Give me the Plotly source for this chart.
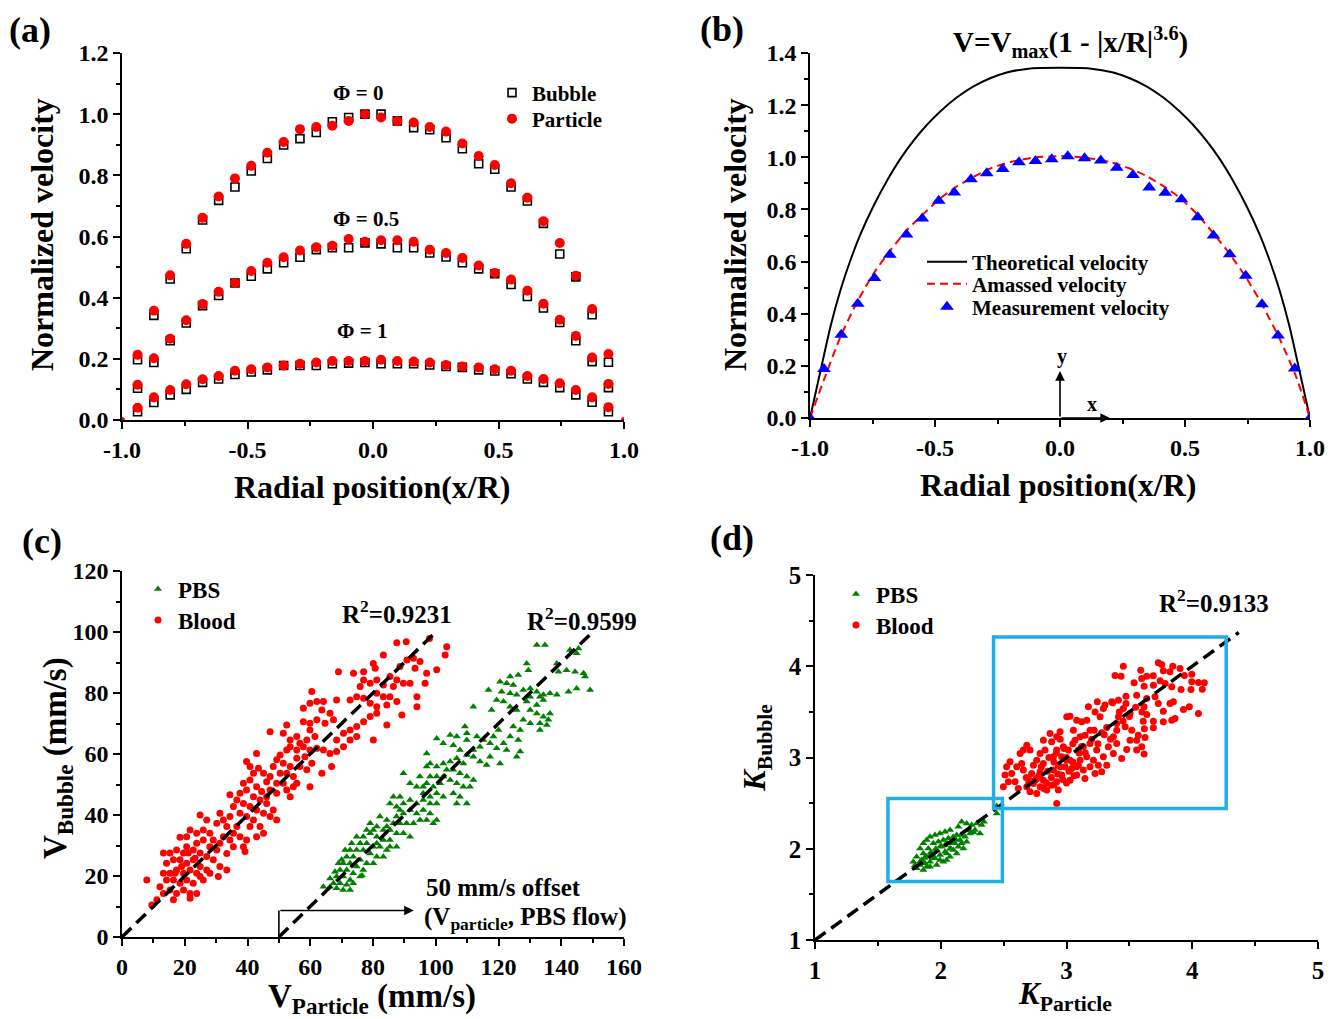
import plotly.graph_objects as go

# ---------------- Panel (a) data ----------------
a_x = [-0.938, -0.873, -0.808, -0.744, -0.679, -0.615, -0.550, -0.485, -0.421, -0.356,
       -0.291, -0.226, -0.162, -0.097, -0.032, 0.032, 0.097, 0.162, 0.226, 0.291,
       0.356, 0.421, 0.485, 0.550, 0.615, 0.679, 0.744, 0.808, 0.873, 0.938]
part_phi0 = [0.213, 0.357, 0.473, 0.576, 0.661, 0.731, 0.790, 0.831, 0.874, 0.909,
             0.951, 0.958, 0.962, 0.978, 1.000, 0.989, 0.978, 0.973, 0.958, 0.943,
             0.904, 0.863, 0.834, 0.774, 0.727, 0.650, 0.579, 0.472, 0.363, 0.216]
bub_phi0 = [0.197, 0.342, 0.461, 0.560, 0.654, 0.718, 0.762, 0.814, 0.855, 0.899,
            0.920, 0.940, 0.975, 0.989, 1.000, 1.000, 0.978, 0.956, 0.949, 0.923,
            0.887, 0.838, 0.820, 0.762, 0.716, 0.643, 0.543, 0.468, 0.344, 0.189]
part_phi05 = [0.115, 0.202, 0.266, 0.326, 0.379, 0.419, 0.448, 0.487, 0.514, 0.532,
              0.554, 0.565, 0.570, 0.592, 0.583, 0.588, 0.588, 0.583, 0.557, 0.546,
              0.530, 0.505, 0.481, 0.459, 0.423, 0.380, 0.328, 0.275, 0.204, 0.118]
bub_phi05 = [0.104, 0.188, 0.259, 0.317, 0.374, 0.407, 0.448, 0.470, 0.494, 0.514,
             0.532, 0.557, 0.563, 0.563, 0.579, 0.576, 0.563, 0.563, 0.546, 0.533,
             0.514, 0.494, 0.478, 0.443, 0.404, 0.366, 0.319, 0.259, 0.191, 0.106]
part_phi1 = [0.040, 0.074, 0.098, 0.117, 0.133, 0.144, 0.161, 0.166, 0.172, 0.178,
             0.184, 0.188, 0.193, 0.193, 0.193, 0.197, 0.193, 0.191, 0.188, 0.180,
             0.175, 0.172, 0.166, 0.161, 0.144, 0.134, 0.120, 0.098, 0.074, 0.042]
bub_phi1 = [0.027, 0.057, 0.082, 0.100, 0.123, 0.134, 0.149, 0.157, 0.164, 0.178,
            0.178, 0.178, 0.184, 0.186, 0.188, 0.184, 0.184, 0.184, 0.180, 0.175,
            0.172, 0.164, 0.160, 0.151, 0.134, 0.123, 0.106, 0.082, 0.058, 0.027]
wall_x = [-1.0, 1.0]
wall_v = [0.0, 0.0]

radial_ticks = [-1.0, -0.5, 0.0, 0.5, 1.0]
radial_labels = ["-1.0", "-0.5", "0.0", "0.5", "1.0"]

# ---------------- Panel (b) data ----------------
theory_x = [-1.0, -0.957, -0.918, -0.878, -0.838, -0.798, -0.745, -0.691, -0.638,
            -0.585, -0.532, -0.479, -0.412, -0.346, -0.279, -0.213, -0.133, 0.0, 0.133,
            0.213, 0.279, 0.346, 0.412, 0.479, 0.532, 0.585, 0.638, 0.691, 0.745,
            0.798, 0.838, 0.878, 0.918, 0.957, 1.0]
theory_v = [0.0, 0.185, 0.351, 0.491, 0.606, 0.705, 0.815, 0.912, 0.995,
            1.065, 1.125, 1.176, 1.230, 1.272, 1.303, 1.325, 1.339, 1.343, 1.339,
            1.325, 1.303, 1.272, 1.230, 1.176, 1.125, 1.065, 0.995, 0.912, 0.815,
            0.705, 0.606, 0.491, 0.351, 0.185, 0.0]
amassed_x = [-1.0, -0.944, -0.878, -0.811, -0.745, -0.678, -0.612, -0.545, -0.479, -0.412,
             -0.346, -0.279, -0.199, -0.106, 0.0, 0.106, 0.199, 0.279, 0.346, 0.412,
             0.479, 0.545, 0.612, 0.678, 0.745, 0.811, 0.878, 0.944, 1.0]
amassed_v = [0.0, 0.147, 0.312, 0.446, 0.555, 0.644, 0.721, 0.784, 0.842, 0.889,
             0.925, 0.957, 0.982, 0.999, 1.004, 0.998, 0.982, 0.957, 0.928, 0.890,
             0.845, 0.785, 0.710, 0.630, 0.538, 0.430, 0.305, 0.160, 0.0]
meas_x = [-1.0, -0.944, -0.875, -0.809, -0.742, -0.681, -0.614, -0.551, -0.485, -0.423,
          -0.356, -0.293, -0.229, -0.164, -0.098, -0.033, 0.031, 0.098, 0.163, 0.227,
          0.292, 0.357, 0.421, 0.486, 0.551, 0.614, 0.679, 0.743, 0.808, 0.872, 0.939, 1.0]
meas_v = [0.0, 0.188, 0.319, 0.438, 0.537, 0.626, 0.704, 0.765, 0.833, 0.865,
          0.916, 0.939, 0.955, 0.981, 0.986, 0.992, 1.004, 0.996, 0.988, 0.960,
          0.932, 0.884, 0.864, 0.839, 0.770, 0.700, 0.628, 0.546, 0.436, 0.316, 0.190, 0.0]

# ---------------- Panel (c) data ----------------
blood_vp = [87.6, 103.0, 103.5, 100.3, 96.6, 97.1, 94.0, 94.0, 89.2, 84.4, 80.1, 83.3, 80.1, 80.7, 77.0,
            73.8, 69.0, 88.6, 90.8, 92.9, 95.0, 93.4, 85.4, 87.6, 89.7, 91.8, 86.5, 83.3, 81.2, 79.1,
            77.0, 75.9, 81.2, 83.3, 85.4, 87.6, 84.4, 81.2, 79.1, 77.0, 74.8, 72.7, 81.2, 79.1, 77.0,
            74.8, 72.7, 74.8, 72.7, 70.6, 68.4, 70.6, 68.4, 66.3, 64.2, 62.1, 68.4, 60.5, 57.8, 59.9,
            62.1, 64.2, 63.7, 66.3, 67.4, 64.7, 62.1, 59.9, 57.8, 59.9, 61.5, 58.9, 55.7, 53.6, 52.5,
            47.2, 51.4, 56.7, 57.8, 59.9, 55.7, 53.6, 58.3, 60.5, 58.9, 55.7, 56.7, 63.7, 66.8, 59.9,
            52.5, 50.4, 49.3, 51.4, 53.6, 48.2, 50.4, 52.5, 54.6, 51.4, 49.3, 52.5, 54.6, 53.6, 55.7,
            47.2, 45.1, 46.1, 47.2, 49.3, 42.9, 39.7, 40.8, 43.5, 41.9, 38.7, 40.8, 42.9, 44.5, 46.1,
            39.7, 41.9, 44.0, 46.1, 48.2, 47.2, 49.3, 45.1, 42.9, 40.8, 37.6, 36.6, 34.4, 38.7, 35.5,
            37.6, 39.7, 41.9, 44.0, 45.1, 42.9, 39.7, 38.7, 39.2, 40.8, 31.2, 32.3, 34.4, 30.2, 33.4,
            36.6, 35.5, 37.6, 34.4, 32.3, 31.2, 29.1, 28.0, 24.9, 27.0, 25.9, 23.8, 30.2, 33.4, 35.5,
            28.0, 25.9, 23.8, 21.7, 20.6, 27.0, 29.1, 31.2, 33.4, 30.7, 24.9, 22.7, 20.6, 18.5, 19.6,
            17.4, 15.3, 13.2, 16.4, 14.2, 18.5, 20.6, 22.7, 24.9, 27.0, 21.7, 19.6, 17.4, 15.3, 13.2,
            16.4, 18.5, 20.6, 22.7, 24.9, 19.6, 21.7, 17.4, 15.3, 23.8, 21.7, 16.4, 13.2, 12.1, 7.9,
            11.1, 9.5, 28.0, 25.9, 14.2, 23.8, 21.1, 23.3, 19.0, 16.9, 90.6, 98.0]
blood_vb = [96.5, 92.5, 95.2, 87.6, 83.2, 86.5, 75.5, 78.8, 72.8, 69.5, 64.6, 92.5, 89.7, 88.1, 87.0,
            86.5, 87.0, 88.7, 90.8, 91.4, 90.3, 88.1, 85.4, 84.3, 83.2, 83.2, 82.1, 82.6, 84.3, 83.2,
            84.3, 82.1, 79.9, 78.8, 78.8, 77.2, 76.1, 75.5, 76.6, 78.3, 78.8, 77.7, 73.4, 72.3, 70.6,
            69.0, 67.9, 65.7, 64.6, 66.8, 64.6, 62.4, 60.8, 60.2, 61.3, 61.9, 77.7, 80.5, 75.0, 76.6,
            77.2, 77.2, 74.4, 73.4, 71.2, 70.1, 71.2, 70.1, 70.6, 67.9, 65.7, 64.6, 65.7, 64.6, 69.5,
            67.3, 66.8, 63.5, 62.4, 61.3, 61.3, 62.4, 59.1, 57.0, 54.8, 58.6, 55.9, 53.7, 55.9, 49.3,
            61.3, 59.7, 58.1, 57.0, 55.9, 55.9, 53.7, 53.7, 52.6, 50.4, 50.4, 48.2, 49.3, 46.0, 50.4,
            52.6, 53.7, 50.9, 48.2, 47.1, 60.2, 57.5, 55.9, 55.3, 53.7, 50.4, 51.5, 49.3, 47.7, 46.0,
            48.2, 46.0, 44.9, 43.8, 41.6, 39.5, 38.4, 40.6, 41.6, 42.8, 47.1, 44.9, 46.6, 43.8, 42.8,
            40.6, 39.5, 38.4, 36.2, 34.0, 32.9, 31.8, 29.6, 28.0, 36.2, 40.6, 38.4, 39.5, 37.3, 36.2,
            36.2, 34.0, 32.9, 31.8, 32.9, 30.7, 31.8, 34.0, 40.0, 38.4, 35.1, 34.0, 28.5, 27.4, 29.6,
            29.6, 31.8, 30.7, 35.1, 32.9, 26.4, 25.3, 23.1, 22.0, 19.8, 27.5, 28.5, 29.6, 32.7, 27.5,
            28.5, 27.5, 27.5, 25.3, 24.2, 25.3, 24.2, 25.3, 23.1, 22.0, 22.0, 20.9, 22.0, 20.9, 20.9,
            18.7, 17.6, 18.7, 17.6, 19.8, 15.4, 14.3, 14.3, 15.4, 14.3, 12.7, 12.2, 14.3, 16.5, 18.7,
            12.2, 10.5, 20.9, 18.7, 18.7, 20.9, 27.5, 25.8, 23.1, 20.9, 96.8, 97.9]

pbs_vp = [132.2, 134.8, 145.5, 142.8, 144.9, 129.0, 129.5, 138.6, 139.1, 141.7, 144.4, 147.6, 147.1, 149.2, 144.9,
          142.3, 123.7, 126.3, 120.5, 122.6, 124.7, 116.8, 121.0, 123.7, 125.8, 127.9, 130.1, 132.2, 134.3, 136.4,
          138.6, 134.3, 133.2, 130.1, 129.0, 132.2, 121.6, 119.4, 117.8, 123.7, 125.8, 130.1, 132.2, 134.3, 135.9,
          133.2, 136.4, 135.4, 133.2, 130.1, 127.9, 126.9, 124.7, 123.7, 126.3, 121.6, 120.0, 118.4, 117.3, 119.4,
          122.6, 120.5, 116.2, 117.3, 126.9, 125.8, 112.0, 109.3, 109.9, 113.1, 115.2, 114.1, 112.0, 109.9, 106.7,
          104.6, 100.3, 102.4, 105.6, 107.7, 109.9, 112.0, 114.1, 108.8, 106.7, 104.6, 102.4, 100.3, 98.2, 97.1,
          103.5, 105.6, 107.7, 109.9, 112.0, 110.9, 108.8, 106.7, 104.6, 102.4, 100.3, 101.4, 99.2, 97.1, 94.9,
          91.8, 89.7, 93.9, 96.0, 98.2, 105.6, 107.7, 106.7, 109.9, 100.3, 102.4, 100.3, 98.2, 96.0, 93.9,
          91.8, 89.7, 87.5, 88.6, 86.5, 85.4, 96.0, 93.9, 91.8, 89.7, 87.5, 98.2, 100.3, 97.1, 95.0,
          92.9, 90.7, 88.6, 86.5, 84.4, 82.2, 79.1, 81.2, 83.3, 85.4, 87.5, 89.7, 91.8, 85.4, 83.3,
          81.2, 79.1, 76.9, 75.9, 78.0, 80.1, 82.2, 84.4, 87.5, 74.8, 76.9, 79.1, 81.2, 83.3, 72.7,
          71.6, 73.7, 75.9, 78.0, 80.1, 70.5, 72.7, 74.8, 76.9, 69.5, 71.6, 73.7, 75.9, 68.4, 70.5,
          72.7, 67.4, 69.5, 71.6, 73.7, 66.3, 68.4, 70.5, 64.2, 72.7, 66.3, 69.0, 70.0, 67.9, 71.1,
          73.2, 74.8, 78.0, 80.1, 85.4, 81.2, 84.4, 88.6, 99.2, 97.1, 96.0, 98.2, 76.5]
pbs_vb = [95.7, 95.7, 94.6, 94.1, 93.0, 89.7, 87.5, 89.7, 87.0, 87.5, 87.0, 85.4, 86.5, 81.0, 81.5,
          80.4, 85.4, 85.9, 83.7, 83.2, 82.6, 81.0, 80.4, 79.9, 79.4, 81.0, 81.5, 80.4, 79.4, 79.9,
          79.4, 77.7, 78.8, 78.8, 77.2, 76.1, 77.2, 77.7, 74.4, 75.5, 74.4, 74.4, 73.3, 72.2, 71.2,
          70.1, 73.3, 69.5, 67.9, 70.1, 71.2, 67.9, 69.0, 65.7, 64.6, 63.5, 67.9, 65.7, 63.5, 61.9,
          61.3, 56.9, 56.4, 59.1, 60.8, 59.1, 75.5, 69.0, 66.8, 65.7, 64.6, 62.4, 61.3, 64.6, 65.7,
          66.2, 65.1, 63.5, 62.9, 61.3, 59.7, 59.1, 57.5, 56.9, 58.6, 57.5, 56.9, 55.9, 56.9, 60.2,
          54.8, 54.8, 53.7, 52.6, 51.5, 49.3, 49.3, 50.4, 51.5, 52.6, 52.6, 50.4, 49.3, 50.4, 52.6,
          50.4, 53.7, 49.3, 47.1, 46.0, 47.1, 46.0, 43.8, 43.8, 47.1, 46.0, 43.8, 43.8, 44.9, 43.8,
          44.9, 43.8, 42.7, 46.0, 46.0, 43.8, 41.6, 40.5, 41.6, 40.5, 39.5, 40.5, 38.4, 38.4, 38.4,
          37.3, 37.3, 37.3, 37.3, 38.4, 39.5, 37.3, 36.2, 35.1, 35.1, 34.0, 34.0, 32.9, 31.8, 31.8,
          32.9, 34.0, 32.9, 30.7, 30.7, 29.6, 29.6, 28.5, 29.6, 28.5, 28.5, 27.4, 26.3, 26.3, 28.5,
          26.3, 26.3, 25.3, 24.2, 24.2, 24.2, 24.2, 23.1, 22.0, 22.0, 22.0, 20.9, 19.8, 19.8, 19.8,
          18.7, 17.6, 17.6, 17.1, 17.6, 16.5, 16.0, 15.4, 16.5, 15.4, 19.2, 24.2, 25.3, 21.4, 28.5,
          30.7, 32.9, 35.1, 35.1, 29.6, 30.7, 36.2, 41.6, 37.3, 55.9, 49.3, 52.6, 20.2]
fit_blood_x = [0, 100]
fit_blood_y = [0, 100]
fit_pbs_x = [50, 150]
fit_pbs_y = [0, 100]

# ---------------- Panel (d) data ----------------
blood_kp = [3.452, 3.386, 3.434, 3.590, 3.638, 3.690, 3.730, 3.757, 3.845, 3.903, 3.937, 3.996, 3.770, 3.823,
            3.537, 3.598, 3.617, 3.691, 3.744, 3.784, 3.837, 3.911, 3.996, 4.049, 4.096, 4.080, 3.990, 3.473,
            3.413, 3.367, 3.306, 3.245, 3.558, 3.638, 3.704, 3.730, 3.823, 3.850, 3.930, 3.977, 4.049, 3.770,
            3.837, 3.863, 3.770, 3.617, 3.638, 3.691, 3.610, 3.691, 3.619, 3.473, 3.505, 3.452, 3.413, 3.571,
            3.624, 3.558, 3.598, 3.617, 3.558, 3.505, 3.479, 3.439, 3.373, 3.320, 3.280, 3.373, 3.399, 3.333,
            3.293, 3.320, 3.280, 3.240, 3.214, 3.161, 3.121, 3.081, 3.028, 3.002, 3.187, 3.147, 3.108, 3.055,
            3.068, 3.187, 3.134, 3.094, 3.161, 3.108, 3.187, 3.134, 3.081, 3.147, 3.028, 2.949, 2.922, 2.869,
            2.882, 2.816, 2.975, 3.015, 2.962, 2.922, 2.896, 3.028, 2.988, 2.935, 2.896, 2.962, 2.922, 2.882,
            2.935, 2.843, 2.922, 2.829, 2.790, 2.763, 2.816, 2.737, 2.790, 2.723, 2.763, 2.697, 2.816, 2.737,
            2.684, 2.790, 2.710, 2.763, 2.657, 2.644, 2.604, 2.564, 2.511, 2.684, 2.710, 2.657, 2.631, 2.498,
            2.538, 2.591, 2.617, 2.524, 2.551, 3.399, 3.267, 3.227, 3.293, 3.174, 3.360, 3.466, 3.519, 3.002,
            3.041, 3.094, 3.253, 3.227, 2.850, 2.900, 2.950, 3.000, 2.800, 2.880, 2.930, 2.970, 3.050, 3.100,
            2.780, 2.840, 3.020, 3.080, 2.920, 2.860, 3.120, 3.150, 2.980, 3.050, 2.750, 2.700, 2.680, 2.820,
            2.900, 3.000, 3.060, 2.950, 3.200, 3.250, 3.300, 3.220, 3.350, 3.400, 3.450, 3.500, 3.420, 3.550,
            3.600]
blood_kb = [4.000, 3.900, 3.890, 3.957, 3.891, 3.895, 4.037, 4.020, 4.000, 3.975, 3.900, 3.913, 3.950, 3.939,
            3.818, 3.866, 3.782, 3.793, 3.840, 3.811, 3.774, 3.745, 3.829, 3.822, 3.818, 3.749, 3.745, 3.672,
            3.628, 3.599, 3.574, 3.610, 3.683, 3.647, 3.665, 3.592, 3.592, 3.610, 3.526, 3.555, 3.482, 3.508,
            3.409, 3.428, 3.391, 3.555, 3.471, 3.398, 3.398, 3.325, 3.314, 3.592, 3.482, 3.537, 3.446, 3.245,
            3.220, 3.190, 3.117, 3.037, 3.081, 3.190, 3.088, 2.990, 3.044, 3.329, 3.270, 3.227, 3.154, 3.117,
            3.008, 2.916, 2.843, 3.081, 2.971, 3.409, 3.391, 3.409, 3.453, 3.446, 3.300, 3.245, 3.227, 3.300,
            3.190, 3.154, 3.117, 3.081, 3.008, 2.971, 2.898, 2.862, 2.807, 2.770, 2.752, 3.281, 3.227, 3.263,
            3.172, 3.190, 3.117, 3.081, 3.008, 3.081, 3.008, 2.971, 2.898, 2.916, 2.862, 2.807, 2.734, 2.697,
            2.643, 2.643, 2.497, 3.081, 3.044, 2.971, 2.935, 2.916, 2.843, 2.825, 2.770, 2.770, 2.752, 2.716,
            2.679, 2.679, 2.624, 2.606, 2.862, 2.935, 2.898, 2.825, 2.807, 3.135, 3.081, 3.081, 3.044, 2.679,
            2.734, 2.734, 2.661, 2.898, 2.953, 3.373, 3.446, 3.500, 3.537, 3.555, 3.610, 3.336, 3.300, 2.971,
            2.880, 2.916, 2.916, 2.825, 2.850, 2.950, 2.900, 3.000, 2.900, 2.780, 2.820, 2.760, 2.950, 3.050,
            2.800, 2.720, 2.850, 2.900, 3.050, 3.000, 3.120, 3.050, 3.100, 3.150, 2.750, 2.720, 2.780, 2.660,
            2.700, 2.720, 2.800, 3.200, 3.200, 3.150, 3.250, 3.300, 3.200, 3.300, 3.400, 3.450, 3.500, 3.550,
            3.500]

pbs_kp = [1.795, 1.808, 1.835, 1.862, 1.888, 1.915, 1.954, 1.994, 2.034, 2.074, 2.140, 2.166, 2.206, 2.246,
          2.286, 2.325, 2.312, 2.272, 2.233, 2.193, 2.153, 2.113, 2.074, 2.034, 1.994, 1.954, 1.915, 1.875,
          1.835, 1.809, 1.862, 1.915, 1.968, 2.021, 2.074, 2.127, 2.180, 2.140, 2.100, 2.047, 2.007, 1.968,
          1.928, 1.888, 1.848, 1.941, 1.981, 2.021, 2.060, 2.100, 2.127, 2.034, 2.087, 2.166, 2.206, 1.901,
          1.862, 1.941, 1.994, 2.047, 2.344, 2.445, 2.445, 1.835, 1.888, 1.782, 1.960, 2.000, 2.050, 2.080,
          1.920, 1.870, 2.120, 2.160, 2.230, 2.260]
pbs_kb = [1.820, 1.913, 2.004, 2.059, 2.095, 2.132, 2.150, 2.168, 2.187, 2.205, 2.241, 2.296, 2.278, 2.260,
          2.278, 2.260, 2.168, 2.205, 2.168, 2.132, 2.095, 2.059, 2.004, 1.968, 1.931, 1.895, 1.858, 1.840,
          1.822, 1.785, 1.767, 1.803, 1.822, 1.858, 1.913, 1.949, 2.004, 2.022, 1.986, 1.949, 2.022, 1.986,
          1.949, 1.913, 1.876, 2.059, 2.077, 2.095, 2.114, 2.132, 2.150, 2.040, 2.059, 2.059, 2.077, 2.004,
          1.949, 1.895, 1.876, 1.876, 2.296, 2.387, 2.468, 1.858, 1.803, 1.858, 2.000, 2.030, 2.060, 2.000,
          1.960, 1.900, 2.100, 2.150, 2.200, 2.180]
fit_k_x = [1.0, 4.37]
fit_k_y = [1.0, 4.37]

# ---------------- Figure ----------------
W, H = 1338, 1019
OFF = 8  # the page body adds an 8 px margin; compensate so the picture lines up
SERIF = "Liberation Serif"
RED = "#ff0000"
GREEN = "#008000"
BLUE = "#0000ff"
BOX = "#1eaee8"


def px(v):
    return (v - OFF) / W


def py(v):
    return 1 - (v - OFF) / H


def bfont(size):
    return dict(family=SERIF, size=size, color="black", weight="bold")


fig = go.Figure()

# Panel (a)
def add_a(yvals, sym, color, name, show, filled, leg):
    fig.add_trace(go.Scatter(
        x=a_x, y=yvals, mode="markers", name=name, showlegend=show, legend=leg,
        marker=dict(symbol=sym, size=8 if not filled else 10, color=color,
                    line=dict(color=color, width=1.6 if not filled else 0)),
        xaxis="x", yaxis="y"))

add_a(bub_phi0, "square-open", "black", "Bubble", True, False, "legend")
add_a(bub_phi05, "square-open", "black", "Bubble", False, False, "legend")
add_a(bub_phi1, "square-open", "black", "Bubble", False, False, "legend")
add_a(part_phi0, "circle", RED, "Particle", True, True, "legend2")
add_a(part_phi05, "circle", RED, "Particle", False, True, "legend2")
add_a(part_phi1, "circle", RED, "Particle", False, True, "legend2")
fig.add_trace(go.Scatter(x=wall_x, y=wall_v, mode="markers", showlegend=False,
                         marker=dict(size=6, color=RED), xaxis="x", yaxis="y"))

# Panel (b)
fig.add_trace(go.Scatter(x=theory_x, y=theory_v, mode="lines", name="Theoretical velocity",
                         line=dict(color="black", width=2, shape="spline", smoothing=0.6),
                         legend="legend3", xaxis="x2", yaxis="y2"))
fig.add_trace(go.Scatter(x=amassed_x, y=amassed_v, mode="lines", name="Amassed velocity",
                         line=dict(color=RED, width=2, dash="8px,5px", shape="spline", smoothing=0.6),
                         legend="legend4", xaxis="x2", yaxis="y2"))
fig.add_trace(go.Scatter(x=meas_x, y=meas_v, mode="markers", name="Measurement velocity",
                         marker=dict(symbol="triangle-up", size=12, color=BLUE),
                         legend="legend5", xaxis="x2", yaxis="y2"))

# Panel (c)
fig.add_trace(go.Scatter(x=pbs_vp, y=pbs_vb, mode="markers", name="PBS",
                         marker=dict(symbol="triangle-up", size=7, color=GREEN),
                         legend="legend6", xaxis="x3", yaxis="y3"))
fig.add_trace(go.Scatter(x=blood_vp, y=blood_vb, mode="markers", name="Blood",
                         marker=dict(symbol="circle", size=7, color=RED),
                         legend="legend7", xaxis="x3", yaxis="y3"))
fig.add_trace(go.Scatter(x=fit_blood_x, y=fit_blood_y, mode="lines", showlegend=False,
                         line=dict(color="black", width=3.5, dash="13px,7px"), xaxis="x3", yaxis="y3"))
fig.add_trace(go.Scatter(x=fit_pbs_x, y=fit_pbs_y, mode="lines", showlegend=False,
                         line=dict(color="black", width=3.5, dash="13px,7px"), xaxis="x3", yaxis="y3"))

# Panel (d)
fig.add_trace(go.Scatter(x=pbs_kp, y=pbs_kb, mode="markers", name="PBS",
                         marker=dict(symbol="triangle-up", size=7, color=GREEN),
                         legend="legend8", xaxis="x4", yaxis="y4"))
fig.add_trace(go.Scatter(x=blood_kp, y=blood_kb, mode="markers", name="Blood",
                         marker=dict(symbol="circle", size=7, color=RED),
                         legend="legend9", xaxis="x4", yaxis="y4"))
fig.add_trace(go.Scatter(x=fit_k_x, y=fit_k_y, mode="lines", showlegend=False,
                         line=dict(color="black", width=3.5, dash="13px,7px"), xaxis="x4", yaxis="y4"))


def axis(domain, rng, dtick, minor_dtick, fmt, anchor, fsize=24, tickvals=None, ticktext=None):
    d = dict(domain=domain, range=rng, dtick=dtick, tick0=rng[0], tickformat=fmt,
             showline=True, linecolor="black", linewidth=1.5, mirror=False,
             ticks="outside", ticklen=7, tickwidth=1.5, tickcolor="black",
             showgrid=False, zeroline=False, anchor=anchor, automargin=False,
             tickfont=bfont(fsize),
             minor=dict(ticks="outside", ticklen=4, tickwidth=1.5, tickcolor="black",
                        dtick=minor_dtick, showgrid=False))
    if tickvals is not None:
        d.update(tickmode="array", tickvals=tickvals, ticktext=ticktext)
    return d


def leg(x, y, size, iw=30):
    return dict(x=px(x), y=py(y), xanchor="left", yanchor="middle", bgcolor="rgba(0,0,0,0)",
                font=bfont(size), itemwidth=iw, borderwidth=0)


fig.update_layout(
    width=W, height=H, margin=dict(l=0, r=0, t=0, b=0, pad=0, autoexpand=False),
    paper_bgcolor="white", plot_bgcolor="white",
    font=dict(family=SERIF, color="black", weight="bold"),
    xaxis=axis([px(122), px(624)], [-1, 1], 0.5, 0.25, ".1f", "y",
               tickvals=radial_ticks, ticktext=radial_labels),
    yaxis=axis([py(420), py(53)], [0, 1.2], 0.2, 0.1, ".1f", "x"),
    xaxis2=axis([px(810), px(1310)], [-1, 1], 0.5, 0.25, ".1f", "y2",
                tickvals=radial_ticks, ticktext=radial_labels),
    yaxis2=axis([py(418), py(53)], [0, 1.4], 0.2, 0.1, ".1f", "x2"),
    xaxis3=axis([px(122), px(624)], [0, 160], 20, 10, "d", "y3"),
    yaxis3=axis([py(937), py(571)], [0, 120], 20, 10, "d", "x3"),
    xaxis4=axis([px(815), px(1318)], [1, 5], 1, 0.5, "d", "y4", 25),
    yaxis4=axis([py(940), py(575)], [1, 5], 1, 0.5, "d", "x4", 25),
    legend=leg(492, 93, 21),
    legend2=leg(492, 119, 21),
    legend3=leg(922, 262, 21, 40),
    legend4=leg(922, 284, 21, 40),
    legend5=leg(922, 307, 21, 40),
    legend6=leg(138, 589, 23),
    legend7=leg(138, 620, 23),
    legend8=leg(836, 594, 23),
    legend9=leg(836, 625, 23),
)

ann = []


def ptext(text, x, y, size, angle=0):
    ann.append(dict(text=text, x=px(x), y=py(y), xref="paper", yref="paper", showarrow=False,
                    xanchor="center", yanchor="middle", textangle=angle, font=bfont(size)))


# panel labels
ptext("(a)", 30, 30, 36)
ptext("(b)", 722, 29, 36)
ptext("(c)", 42, 541, 36)
ptext("(d)", 732, 538, 36)
# axis titles
ptext("Normalized velocity", 42, 235, 32, -90)
ptext("Radial position(x/R)", 372, 487, 32)
ptext("Normalized velocity", 735, 235, 32, -90)
ptext("Radial position(x/R)", 1058, 485, 32)
ptext("V<sub>Bubble</sub> (mm/s)", 57, 758, 33, -90)
ptext("V<sub>Particle</sub> (mm/s)", 372, 998, 33)
ptext("<i>K</i><sub>Bubble</sub>", 757, 748, 31, -90)
ptext("<i>K</i><sub>Particle</sub>", 1065, 996, 31)
# panel (a) labels
ptext("Φ = 0", 358, 93, 21)
ptext("Φ = 0.5", 366, 219, 21)
ptext("Φ = 1", 362, 331, 21)
# panel (b) formula
ptext("V=V<sub>max</sub>(1 - |x/R|<sup>3.6</sup>)", 1070, 42, 29)
ptext("y", 1062, 356, 20)
ptext("x", 1092, 404, 20)
# panel (c)
ptext("R<sup>2</sup>=0.9231", 397, 612, 25)
ptext("R<sup>2</sup>=0.9599", 582, 619, 25)
ptext("50 mm/s offset", 503, 887, 25)
ptext("(V<sub>particle</sub>, PBS flow)", 525, 918, 25)
# panel (d)
ptext("R<sup>2</sup>=0.9133", 1214, 601, 25)

# arrows in (b)
ann.append(dict(x=0, y=0.18, ax=0, ay=0, xref="x2", yref="y2", axref="x2", ayref="y2",
                text="", showarrow=True, arrowhead=2, arrowsize=1.2, arrowwidth=1.6, arrowcolor="black"))
ann.append(dict(x=0.2, y=0, ax=0, ay=0, xref="x2", yref="y2", axref="x2", ayref="y2",
                text="", showarrow=True, arrowhead=2, arrowsize=1.2, arrowwidth=1.6, arrowcolor="black"))
# offset arrow in (c)
ann.append(dict(x=93, y=8.7, ax=50, ay=8.7, xref="x3", yref="y3", axref="x3", ayref="y3",
                text="", showarrow=True, arrowhead=2, arrowsize=1.2, arrowwidth=1.6, arrowcolor="black"))

shapes = [
    dict(type="line", xref="x3", yref="y3", x0=50, y0=0, x1=50, y1=8.7,
         line=dict(color="black", width=1.6)),
    dict(type="rect", xref="x4", yref="y4", x0=1.58, y0=1.64, x1=2.49, y1=2.55,
         line=dict(color=BOX, width=3.5)),
    dict(type="rect", xref="x4", yref="y4", x0=2.42, y0=2.44, x1=4.27, y1=4.32,
         line=dict(color=BOX, width=3.5)),
]

fig.update_layout(annotations=ann, shapes=shapes)
fig.write_html("out.html")
